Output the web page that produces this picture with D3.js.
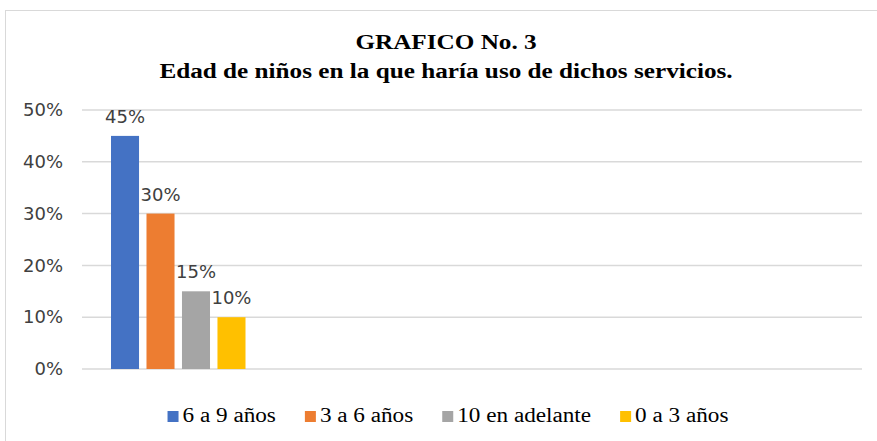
<!DOCTYPE html>
<meta charset="utf-8">
<style>
body { margin: 0; background: #fff; }
text.title { font-family: "Liberation Serif", Tinos, "Times New Roman", "DejaVu Serif", serif; font-weight: bold; font-size: 21px; fill: #000; }
g.y.axis text { font-family: "DejaVu Sans", Tahoma, sans-serif; font-size: 18px; fill: #404040; }
g.grid line { stroke: #d9d9d9; stroke-width: 1.5px; }
text.label { font-family: "DejaVu Sans", Tahoma, sans-serif; font-size: 18px; fill: #404040; }
g.legend text { font-family: "Liberation Serif", Tinos, "Times New Roman", "DejaVu Serif", serif; font-size: 20px; fill: #000; }
</style>
<body>
<div id="chart"></div>
<script src="https://cdn.jsdelivr.net/npm/d3@7"></script>
<script>
// Edad de niños - one category, four series
var series = ["6 a 9 años", "3 a 6 años", "10 en adelante", "0 a 3 años"];
var values = [0.45, 0.30, 0.15, 0.10];
var colors = ["#4472C4", "#ED7D31", "#A5A5A5", "#FFC000"];
var yTicks = [0, 0.1, 0.2, 0.3, 0.4, 0.5];
var titleLines = ["GRAFICO No. 3", "Edad de niños en la que haría uso de dichos servicios."];

var outerWidth = 877;
var outerHeight = 441;
var plot = {left: 82, right: 862, top: 110, bottom: 369};
// the source picture is a bit wider than tall, so serif text gets stretched
var stretch = 1.2;
var legendStretch = 1.16;

var svg = d3.select("#chart").append("svg")
    .attr("width", outerWidth)
    .attr("height", outerHeight);

// chart border (runs off the right and bottom)
svg.append("rect")
    .attr("x", 5.5).attr("y", 10.5)
    .attr("width", 900).attr("height", 460)
    .attr("fill", "#fff")
    .attr("stroke", "#d9d9d9");

// title
svg.selectAll("text.title")
    .data(titleLines)
    .enter().append("text")
    .attr("class", "title")
    .attr("text-anchor", "middle")
    .attr("transform", function (d, i) {
        return "translate(446," + (49 + i * 29) + ") scale(" + stretch + ",1)";
    })
    .text(function (d) { return d; });

var y = d3.scaleLinear().domain([0, 0.5]).range([plot.bottom, plot.top]);

// bars sit together at the left end of the plot area
var x = d3.scaleBand()
    .domain(series)
    .range([plot.left + 29, plot.left + 163.5])
    .paddingInner(0.21);

// gridlines
svg.append("g")
    .attr("class", "grid")
    .selectAll("line")
    .data(yTicks)
    .enter().append("line")
    .attr("x1", plot.left).attr("x2", plot.right)
    .attr("y1", function (d) { return y(d); })
    .attr("y2", function (d) { return y(d); });

// y axis labels
var yAxis = d3.axisLeft(y)
    .tickValues(yTicks)
    .tickFormat(d3.format(".0%"))
    .tickSize(0)
    .tickPadding(0);

svg.append("g")
    .attr("class", "y axis")
    .attr("transform", "translate(63,0)")
    .call(yAxis)
    .call(function (g) { g.select(".domain").remove(); });

// bars
svg.append("g").selectAll("rect")
    .data(series)
    .enter().append("rect")
    .attr("x", function (d) { return x(d); })
    .attr("width", x.bandwidth())
    .attr("y", function (d, i) { return y(values[i]); })
    .attr("height", function (d, i) { return y(0) - y(values[i]); })
    .attr("fill", function (d, i) { return colors[i]; });

// data labels
svg.append("g").selectAll("text")
    .data(series)
    .enter().append("text")
    .attr("class", "label")
    .attr("x", function (d) { return x(d) + x.bandwidth() / 2; })
    .attr("y", function (d, i) { return y(values[i]) - 13; })
    .attr("text-anchor", "middle")
    .text(function (d, i) { return d3.format(".0%")(values[i]); });

// legend, laid out left to right then centered
var legend = svg.append("g").attr("class", "legend");
var items = legend.selectAll("g")
    .data(series)
    .enter().append("g");

items.append("rect")
    .attr("width", 11).attr("height", 11)
    .attr("y", -11)
    .attr("fill", function (d, i) { return colors[i]; });

items.append("text")
    .attr("transform", "translate(15,0) scale(" + legendStretch + ",1)")
    .text(function (d) { return d; });

var cursor = 0;
items.each(function () {
    var w = 15 + legendStretch * d3.select(this).select("text").node().getComputedTextLength();
    d3.select(this).attr("transform", "translate(" + cursor + ",0)");
    cursor += w + 29;
});
var total = cursor - 29;
legend.attr("transform", "translate(" + (448 - total / 2) + ",422)");
</script>
</body>
